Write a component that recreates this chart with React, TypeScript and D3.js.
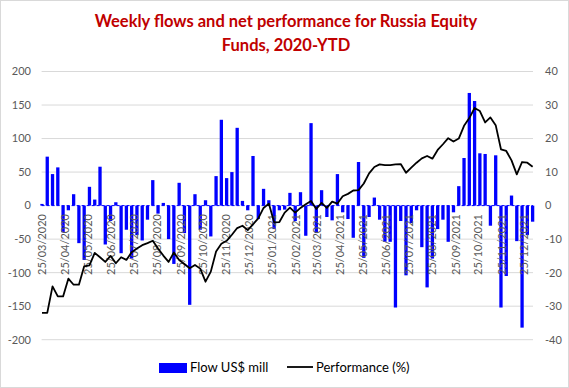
import * as d3 from 'd3';

// weekly flows (US$ mill), first week ending 25/03/2020
const startDate = new Date(Date.UTC(2020, 2, 25));
const flows = [
  2.5, 73, 47, 57, -40, -7, 17, -56, -81, 28,
  9, 58, -58, -23, 5, -71, -36, -79, -44, -52,
  -21, 38, -12, 4, -50, -87, 34, -41, -148, 17,
  -36, 8, -46, 44, 128, 41, 50, 116, 7, -7,
  74, -20, 25, 8, -35, -7, -6, 19, -23, 20,
  -45, 123, -41, 23, -17, -22, 47, -10, -20, -48,
  65, -78, -17, 12, -21, -54, -54, -152, -23, -104,
  -26, -7, -62, -122, -79, -35, -21, -54, -10, 29,
  71, 168, 156, 78, 77, -30, 75, -152, -105, 15,
  -53, -182, -44, -24,
];
// cumulative performance (%)
const performance = [
  -32, -32, -24.1, -27.1, -27.1, -21.8, -23.6, -23.6, -18.1, -17.8,
  -14.1, -15.4, -16.8, -15, -17.2, -15.4, -16.2, -13.9, -12.8, -11.8,
  -11.2, -10.5, -12.8, -14.9, -16.8, -14, -16.2, -17.4, -18.7, -17.7,
  -18.8, -22.7, -19.7, -13.7, -11.4, -10.5, -8.7, -6.7, -6, -7.3,
  -5.6, -3.8, -0.7, 0.6, -5, -4.9, -2.1, -0.6, -2.1, -0.7,
  0.4, 1.4, -1, 0.8, -0.7, 1.2, 0.6, 2.8, 3.5, 4.5,
  4.6, 6.6, 9.6, 11.5, 12.3, 12.1, 12.1, 12.3, 12.4, 9.8,
  11.3, 12.8, 14.1, 14.8, 14, 16.6, 18.3, 20.1, 19.1, 20,
  23.8, 26.1, 29.1, 28.2, 24.8, 26.3, 24, 16.8, 16.3, 13.5,
  9.3, 13, 12.8, 11.6,
];
const leftTicks = [200, 150, 100, 50, 0, -50, -100, -150, -200];
const rightTicks = [40, 30, 20, 10, 0, -10, -20, -30, -40];
const titleLines = ['Weekly flows and net performance for Russia Equity', 'Funds, 2020-YTD'];

const W = 569;
const H = 388;
const font = 'Lato, Carlito, Calibri, sans-serif';

export default function App() {
  const dates = flows.map((_, i) => d3.utcDay.offset(startDate, 7 * i));
  const first = dates[0];
  const last = dates[dates.length - 1];

  const x = d3.scaleUtc()
    .domain([d3.utcHour.offset(first, -12), d3.utcHour.offset(last, 12)])
    .range([41.6, 533]);
  const yL = d3.scaleLinear().domain([-200, 200]).range([339.7, 71.5]);
  const yR = d3.scaleLinear().domain([-40, 40]).range([339.7, 71.5]);

  // monthly ticks on the 25th
  const monthTicks = d3.utcMonth.range(d3.utcMonth.floor(first), last)
    .map((m) => d3.utcDay.offset(m, 24))
    .filter((d) => d >= first && d <= last);
  const fmt = d3.utcFormat('%d/%m/%Y');

  const barW = 3.3;
  const line = d3.line<number>()
    .x((_, i) => x(dates[i]))
    .y((d) => yR(d));

  return (
    <svg width={W} height={H} style={{ position: 'absolute', left: 0, top: 0, background: '#fff' }}
      fontFamily={font}>
      <rect x={0.5} y={0.5} width={W - 1} height={H - 1} fill="#fff" stroke="#d9d9d9" />

      {titleLines.map((t, i) => (
        <text key={t} x={286} y={27 + i * 24} textAnchor="middle" fontSize={16.5}
          fontWeight="bold" fill="#c00000">{t}</text>
      ))}

      {leftTicks.map((v) => (
        <line key={'g' + v} x1={41.6} x2={533} y1={yL(v)} y2={yL(v)}
          stroke={v === 0 ? 'none' : '#d9d9d9'} strokeWidth={1} />
      ))}

      {leftTicks.map((v) => (
        <text key={'l' + v} x={31} y={yL(v)} dy="0.35em" textAnchor="end"
          fontSize={11} fill="#595959">{v}</text>
      ))}
      {rightTicks.map((v) => (
        <text key={'r' + v} x={545} y={yR(v)} dy="0.35em" textAnchor="start"
          fontSize={11} fill="#595959">{v}</text>
      ))}

      {flows.map((v, i) => (
        <rect key={'b' + i} x={x(dates[i]) - barW / 2} y={Math.min(yL(v), yL(0))}
          width={barW} height={Math.abs(yL(v) - yL(0))} fill="#0000ff" />
      ))}

      <line x1={41.6} x2={533} y1={yL(0)} y2={yL(0)} stroke="#0000ff"
        strokeWidth={1} strokeDasharray="3,2" />

      {monthTicks.map((d) => (
        <text key={'t' + d.getTime()} transform={`translate(${x(d)},214) rotate(-90)`}
          textAnchor="end" dy="0.35em" fontSize={11} fill="#595959">{fmt(d)}</text>
      ))}

      <path d={line(performance) ?? ''} fill="none" stroke="#000" strokeWidth={1.8}
        strokeLinejoin="round" />

      <rect x={159} y={363} width={28} height={10} fill="#0000ff" />
      <text x={190} y={371.5} fontSize={13} fill="#000">Flow US$ mill</text>
      <line x1={287} x2={313} y1={367} y2={367} stroke="#000" strokeWidth={1.8} />
      <text x={316} y={371.5} fontSize={13} fill="#000">Performance (%)</text>
    </svg>
  );
}
